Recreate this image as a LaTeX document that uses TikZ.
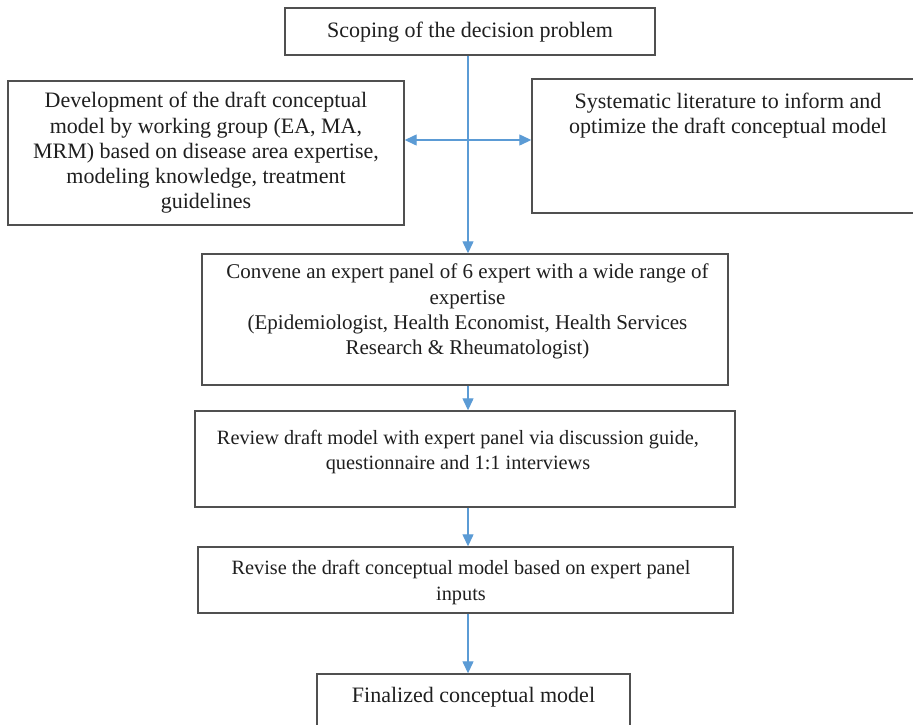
\documentclass[tikz,border=0pt]{standalone}
\usepackage{fontspec}
\setmainfont{Liberation Serif}
\usetikzlibrary{arrows.meta}
\definecolor{flowblue}{RGB}{91,155,213}
\definecolor{boxgray}{RGB}{80,80,80}
\tikzset{
  stepbox/.style={draw=boxgray, line width=1.4pt, rectangle, inner sep=0pt},
  txt/.style={font=\fontsize{22}{25.2}\selectfont, align=center, inner sep=0pt, text=black!88},
  txtmid/.style={txt, font=\fontsize{21}{25.2}\selectfont},
  txtsmall/.style={txt, font=\fontsize{20.3}{25.2}\selectfont},
  flow/.style={draw=flowblue, line width=1.3pt, -{Triangle[length=12pt,width=11pt]}},
  both/.style={draw=flowblue, line width=1.3pt, {Triangle[length=12pt,width=11pt]}-{Triangle[length=12pt,width=11pt]}}
}
\begin{document}
\begin{tikzpicture}[x=1pt,y=-1pt]
\useasboundingbox (0,0) rectangle (913,724);
\fill[white] (0,0) rectangle (913,724);

% boxes
\node[stepbox, minimum width=370pt, minimum height=47pt] (scope) at (470,31.5) {};
\node[stepbox, minimum width=396pt, minimum height=144pt] (dev) at (206,153) {};
\node[stepbox, minimum width=388pt, minimum height=134pt] (lit) at (726,146) {};
\node[stepbox, minimum width=526pt, minimum height=131pt] (panel) at (465,319.5) {};
\node[stepbox, minimum width=540pt, minimum height=96pt] (review) at (465,459) {};
\node[stepbox, minimum width=535pt, minimum height=66pt] (revise) at (465.5,580) {};
\node[stepbox, minimum width=313pt, minimum height=66pt] (final) at (473.5,707) {};

% texts
\node[txt] (scope-t) at (470,32.3) {Scoping of the decision problem};
\node[txt] (dev-t) at (206,153) {Development of the draft conceptual\\model by working group (EA, MA,\\MRM) based on disease area expertise,\\modeling knowledge, treatment\\guidelines};
\node[txt] (lit-t) at (728,115.5) {Systematic literature to inform and\\optimize the draft conceptual model};
\node[txtmid] (panel-t) at (467.5,311.5) {Convene an expert panel of 6 expert with a wide range of\\expertise\\(Epidemiologist, Health Economist, Health Services\\Research \& Rheumatologist)};
\node[txtsmall] (review-t) at (458,452) {Review draft model with expert panel via discussion guide,\\questionnaire and 1:1 interviews};
\node[txtsmall] (revise-t) at (461,582.5) {Revise the draft conceptual model based on expert panel\\inputs};
\node[txt] (final-t) at (473.5,697.3) {Finalized conceptual model};

% connectors
\coordinate (spine) at (468,0);
\coordinate (mid) at (0,140);
\draw[flow] (scope.south -| spine) -- (panel.north -| spine);
\draw[both] (dev.east |- mid) -- (lit.west |- mid);
\draw[flow] (panel.south -| spine) -- (review.north -| spine);
\draw[flow] (review.south -| spine) -- (revise.north -| spine);
\draw[flow] (revise.south -| spine) -- (final.north -| spine);
\end{tikzpicture}
\end{document}
